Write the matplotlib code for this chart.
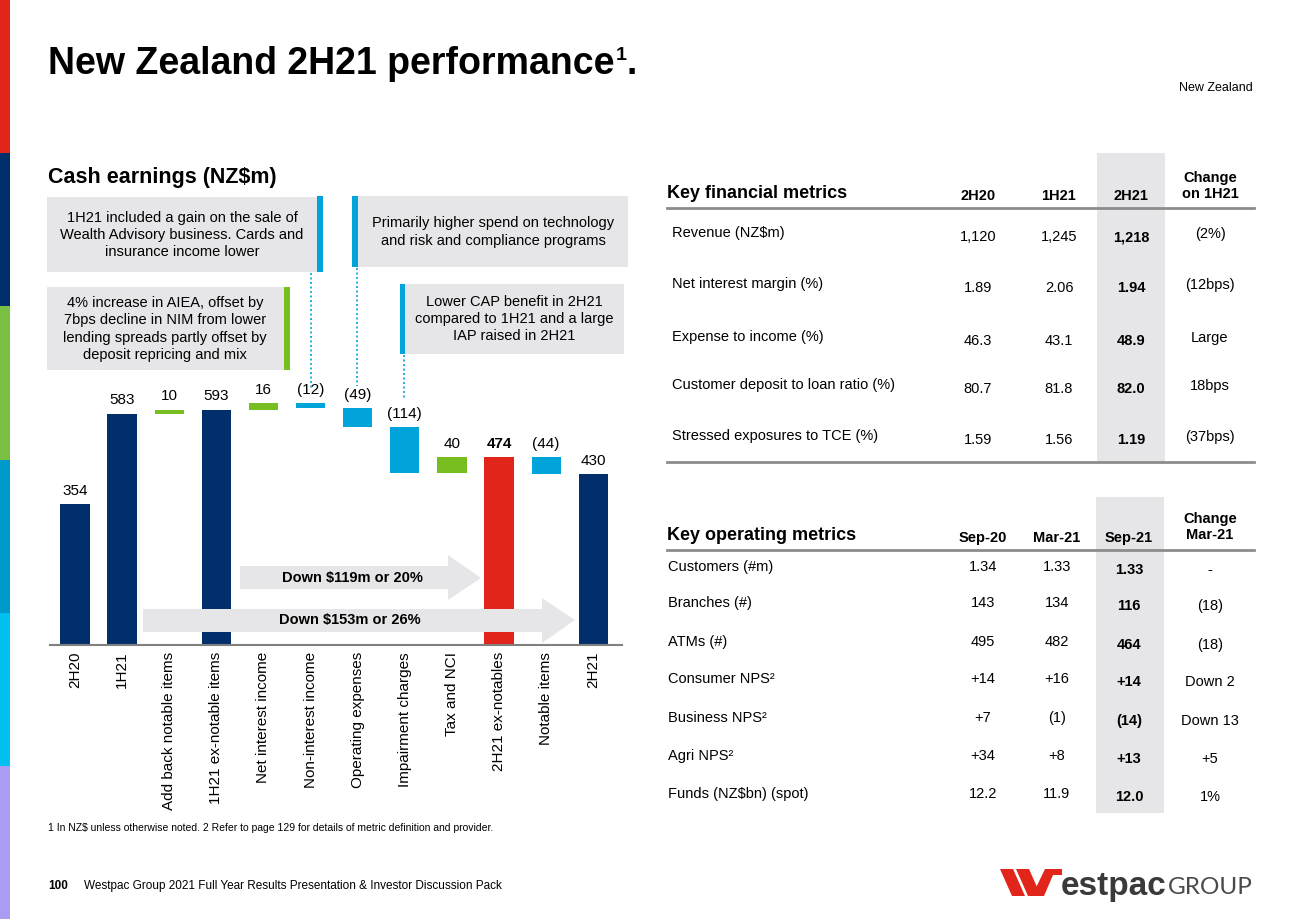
import numpy as np
import matplotlib.pyplot as plt
from matplotlib.patches import Rectangle, Polygon
from matplotlib.lines import Line2D

plt.rcParams['font.family'] = ['Liberation Sans', 'DejaVu Sans']

W, H = 1300, 919

# cash earnings waterfall (NZ$m)
steps = ["2H20", "1H21", "Add back notable items", "1H21 ex-notable items",
         "Net interest income", "Non-interest income", "Operating expenses",
         "Impairment charges", "Tax and NCI", "2H21 ex-notables",
         "Notable items", "2H21"]
amounts = [354, 583, 10, 593, 16, -12, -49, -114, 40, 474, -44, 430]
is_total = [True, True, False, True, False, False, False, False, False, True, False, True]

# key financial metrics table
fin_cols = ["2H20", "1H21", "2H21", "Change\non 1H21"]
fin_rows = ["Revenue (NZ$m)", "Net interest margin (%)", "Expense to income (%)",
            "Customer deposit to loan ratio (%)", "Stressed exposures to TCE (%)"]
fin_2h20 = ["1,120", "1.89", "46.3", "80.7", "1.59"]
fin_1h21 = ["1,245", "2.06", "43.1", "81.8", "1.56"]
fin_2h21 = ["1,218", "1.94", "48.9", "82.0", "1.19"]
fin_chg = ["(2%)", "(12bps)", "Large", "18bps", "(37bps)"]

# key operating metrics table
ops_cols = ["Sep-20", "Mar-21", "Sep-21", "Change\nMar-21"]
ops_rows = ["Customers (#m)", "Branches (#)", "ATMs (#)", "Consumer NPS\u00b2",
            "Business NPS\u00b2", "Agri NPS\u00b2", "Funds (NZ$bn) (spot)"]
ops_sep20 = ["1.34", "143", "495", "+14", "+7", "+34", "12.2"]
ops_mar21 = ["1.33", "134", "482", "+16", "(1)", "+8", "11.9"]
ops_sep21 = ["1.33", "116", "464", "+14", "(14)", "+13", "12.0"]
ops_chg = ["-", "(18)", "(18)", "Down 2", "Down 13", "+5", "1%"]

NAVY = "#002f6c"
GREEN = "#78be20"
BLUE = "#00a3da"
RED = "#e1251b"
GREY = "#e6e6e8"


def fx(x):
    return x / W


def fy(y):
    return 1 - y / H


fig = plt.figure(figsize=(13, 9.19), dpi=100)
renderer = fig.canvas.get_renderer()


def rect(x0, y0, x1, y1, color, z=1):
    fig.patches.append(Rectangle((fx(x0), fy(y1)), (x1 - x0) / W, (y1 - y0) / H,
                                 transform=fig.transFigure, facecolor=color,
                                 edgecolor="none", zorder=z))


def poly(pts, color, z=1):
    fig.patches.append(Polygon([(fx(a), fy(b)) for a, b in pts], closed=True,
                               transform=fig.transFigure, facecolor=color,
                               edgecolor="none", zorder=z))


def hline(x0, x1, y, color, lw, ls="-"):
    fig.lines.append(Line2D([fx(x0), fx(x1)], [fy(y), fy(y)], transform=fig.transFigure,
                            color=color, lw=lw, ls=ls))


def vline(x, y0, y1, color, lw, ls="-"):
    fig.lines.append(Line2D([fx(x), fx(x)], [fy(y0), fy(y1)], transform=fig.transFigure,
                            color=color, lw=lw, ls=ls))


def txt(x, y, s, **kw):
    return fig.text(fx(x), fy(y), s, **kw)


def right_px(t):
    return t.get_window_extent(renderer).x1


# side colour stripe
stripe = [RED, NAVY, "#7ac143", "#0099cc", "#00c0f0", "#a99cf3"]
for i, c in enumerate(stripe):
    rect(0, i * H / 6, 10, (i + 1) * H / 6, c)

# titles
t = txt(48, 74, "New Zealand 2H21 performance", fontsize=27, weight="bold", va="baseline")
xe = right_px(t) + 1
t = txt(xe, 60, "1", fontsize=14, weight="bold", va="baseline")
xe = right_px(t)
txt(xe, 74, ".", fontsize=27, weight="bold", va="baseline")
txt(1253, 88, "New Zealand", fontsize=9, ha="right", va="center")
txt(48, 183, "Cash earnings (NZ$m)", fontsize=15.5, weight="bold", va="baseline")

# waterfall
ax = fig.add_axes([fx(50), fy(645), (622 - 50) / W, (645 - 370) / H])
ax.patch.set_visible(False)
x = np.arange(len(steps))
level = 0
bottoms, heights, colors = [], [], []
for a, tot in zip(amounts, is_total):
    if tot:
        bottoms.append(0)
        heights.append(a)
        level = a
        colors.append(NAVY)
    else:
        bottoms.append(level if a > 0 else level + a)
        heights.append(abs(a))
        level += a
        colors.append(GREEN if a > 0 else BLUE)
colors[steps.index("2H21 ex-notables")] = RED
ax.bar(x, heights, bottom=bottoms, width=0.62, color=colors, zorder=2)
for i, a in enumerate(amounts):
    lab = str(a) if a >= 0 else "(%d)" % (-a)
    ax.annotate(lab, (x[i], bottoms[i] + heights[i]), xytext=(0, 4.5),
                textcoords="offset points", ha="center", va="bottom", fontsize=11,
                weight="bold" if steps[i] == "2H21 ex-notables" else "normal")
ax.set_xlim(-0.53, 11.61)
ax.set_ylim(0, 275 / 0.397)
ax.set_yticks([])
ax.set_xticks(x, steps, rotation=90, fontsize=11)
ax.tick_params(axis="x", length=0, pad=5)
for s in ["top", "right", "left"]:
    ax.spines[s].set_visible(False)
ax.spines["bottom"].set_color("#808080")
ax.spines["bottom"].set_linewidth(1.5)

# comment boxes
rect(47, 197, 317, 272, GREY)
rect(317, 196, 323, 272, BLUE)
txt(182, 235, "1H21 included a gain on the sale of\nWealth Advisory business. Cards and\ninsurance income lower",
    fontsize=10.5, ha="center", va="center", linespacing=1.3)
rect(352, 196, 358, 267, BLUE)
rect(358, 196, 628, 267, GREY)
txt(493, 232, "Primarily higher spend on technology\nand risk and compliance programs",
    fontsize=10.5, ha="center", va="center", linespacing=1.3)
rect(47, 287, 284, 370, GREY)
rect(284, 287, 290, 370, GREEN)
txt(165, 329, "4% increase in AIEA, offset by\n7bps decline in NIM from lower\nlending spreads partly offset by\ndeposit repricing and mix",
    fontsize=10.5, ha="center", va="center", linespacing=1.3)
rect(400, 284, 405, 354, BLUE)
rect(405, 284, 624, 354, GREY)
txt(514, 319, "Lower CAP benefit in 2H21\ncompared to 1H21 and a large\nIAP raised in 2H21",
    fontsize=10.5, ha="center", va="center", linespacing=1.3)
vline(311, 273, 388, BLUE, 1.2, (0, (1.2, 1.5)))
vline(357, 268, 386, BLUE, 1.2, (0, (1.2, 1.5)))
vline(404, 355, 398, BLUE, 1.2, (0, (1.2, 1.5)))

# big grey arrows
poly([(240, 566), (448, 566), (448, 555), (481, 578), (448, 600), (448, 589), (240, 589)], GREY, z=3)
poly([(143, 609), (542, 609), (542, 598), (575, 620), (542, 643), (542, 632), (143, 632)], GREY, z=3)
txt(352, 578, "Down $119m or 20%", fontsize=10.5, weight="bold", ha="center", va="center", zorder=4)
txt(350, 620, "Down $153m or 26%", fontsize=10.5, weight="bold", ha="center", va="center", zorder=4)

# key financial metrics
rect(1097, 153, 1165, 462, GREY)
txt(667, 193, "Key financial metrics", fontsize=13, weight="bold", va="center")
fin_x = [978, 1059, 1131, 1210]
for cx, c in zip(fin_x, fin_cols):
    cy = 186 if "\n" in c else 196
    txt(cx, cy, c, fontsize=10.5, weight="bold", ha="center", va="center", linespacing=1.25)
hline(667, 1254, 208, "#8c8c8c", 2)
hline(667, 1254, 462, "#8c8c8c", 2)
fin_y = [233, 284, 337, 385, 436]
for i, y in enumerate(fin_y):
    txt(672, y, fin_rows[i], fontsize=10.5, va="center")
    txt(fin_x[0], y + 4, fin_2h20[i], fontsize=10.5, ha="center", va="center")
    txt(fin_x[1], y + 4, fin_1h21[i], fontsize=10.5, ha="center", va="center")
    txt(fin_x[2], y + 4, fin_2h21[i], fontsize=10.5, ha="center", va="center", weight="bold")
    txt(fin_x[3], y + 1, fin_chg[i], fontsize=10.5, ha="center", va="center")

# key operating metrics
rect(1096, 497, 1164, 813, GREY)
txt(667, 535, "Key operating metrics", fontsize=13, weight="bold", va="center")
ops_x = [983, 1057, 1129, 1210]
for cx, c in zip(ops_x, ops_cols):
    cy = 527 if "\n" in c else 538
    txt(cx, cy, c, fontsize=10.5, weight="bold", ha="center", va="center", linespacing=1.25)
hline(667, 1254, 550, "#8c8c8c", 2)
ops_y = [567, 603, 642, 679, 718, 756, 794]
for i, y in enumerate(ops_y):
    txt(668, y, ops_rows[i], fontsize=10.5, va="center")
    txt(ops_x[0], y, ops_sep20[i], fontsize=10.5, ha="center", va="center")
    txt(ops_x[1], y, ops_mar21[i], fontsize=10.5, ha="center", va="center")
    txt(ops_x[2], y + 3, ops_sep21[i], fontsize=10.5, ha="center", va="center", weight="bold")
    txt(ops_x[3], y + 3, ops_chg[i], fontsize=10.5, ha="center", va="center")

# footnote and footer
txt(48, 828, "1 In NZ$ unless otherwise noted. 2 Refer to page 129 for details of metric definition and provider.",
    fontsize=7.5, va="center")
txt(48, 886, "100", fontsize=8.5, weight="bold", va="center")
txt(84, 886, "Westpac Group 2021 Full Year Results Presentation & Investor Discussion Pack",
    fontsize=8.5, va="center")

# logo
poly([(1000, 869), (1013, 869), (1025, 896), (1012, 896)], RED)
poly([(1016, 869), (1029, 869), (1041, 896), (1028, 896)], RED)
poly([(1032, 896), (1044, 896), (1053, 875), (1062, 875), (1062, 869), (1045, 869)], RED)
txt(1061, 895, "estpac", fontsize=24, weight="bold", color="#3a3a3a", va="baseline")
txt(1168, 894, "GROUP", fontsize=17.5, color="#4a4a4a", va="baseline",
    family=["Lato", "Liberation Sans"])

fig.savefig("out.png", dpi=100)
